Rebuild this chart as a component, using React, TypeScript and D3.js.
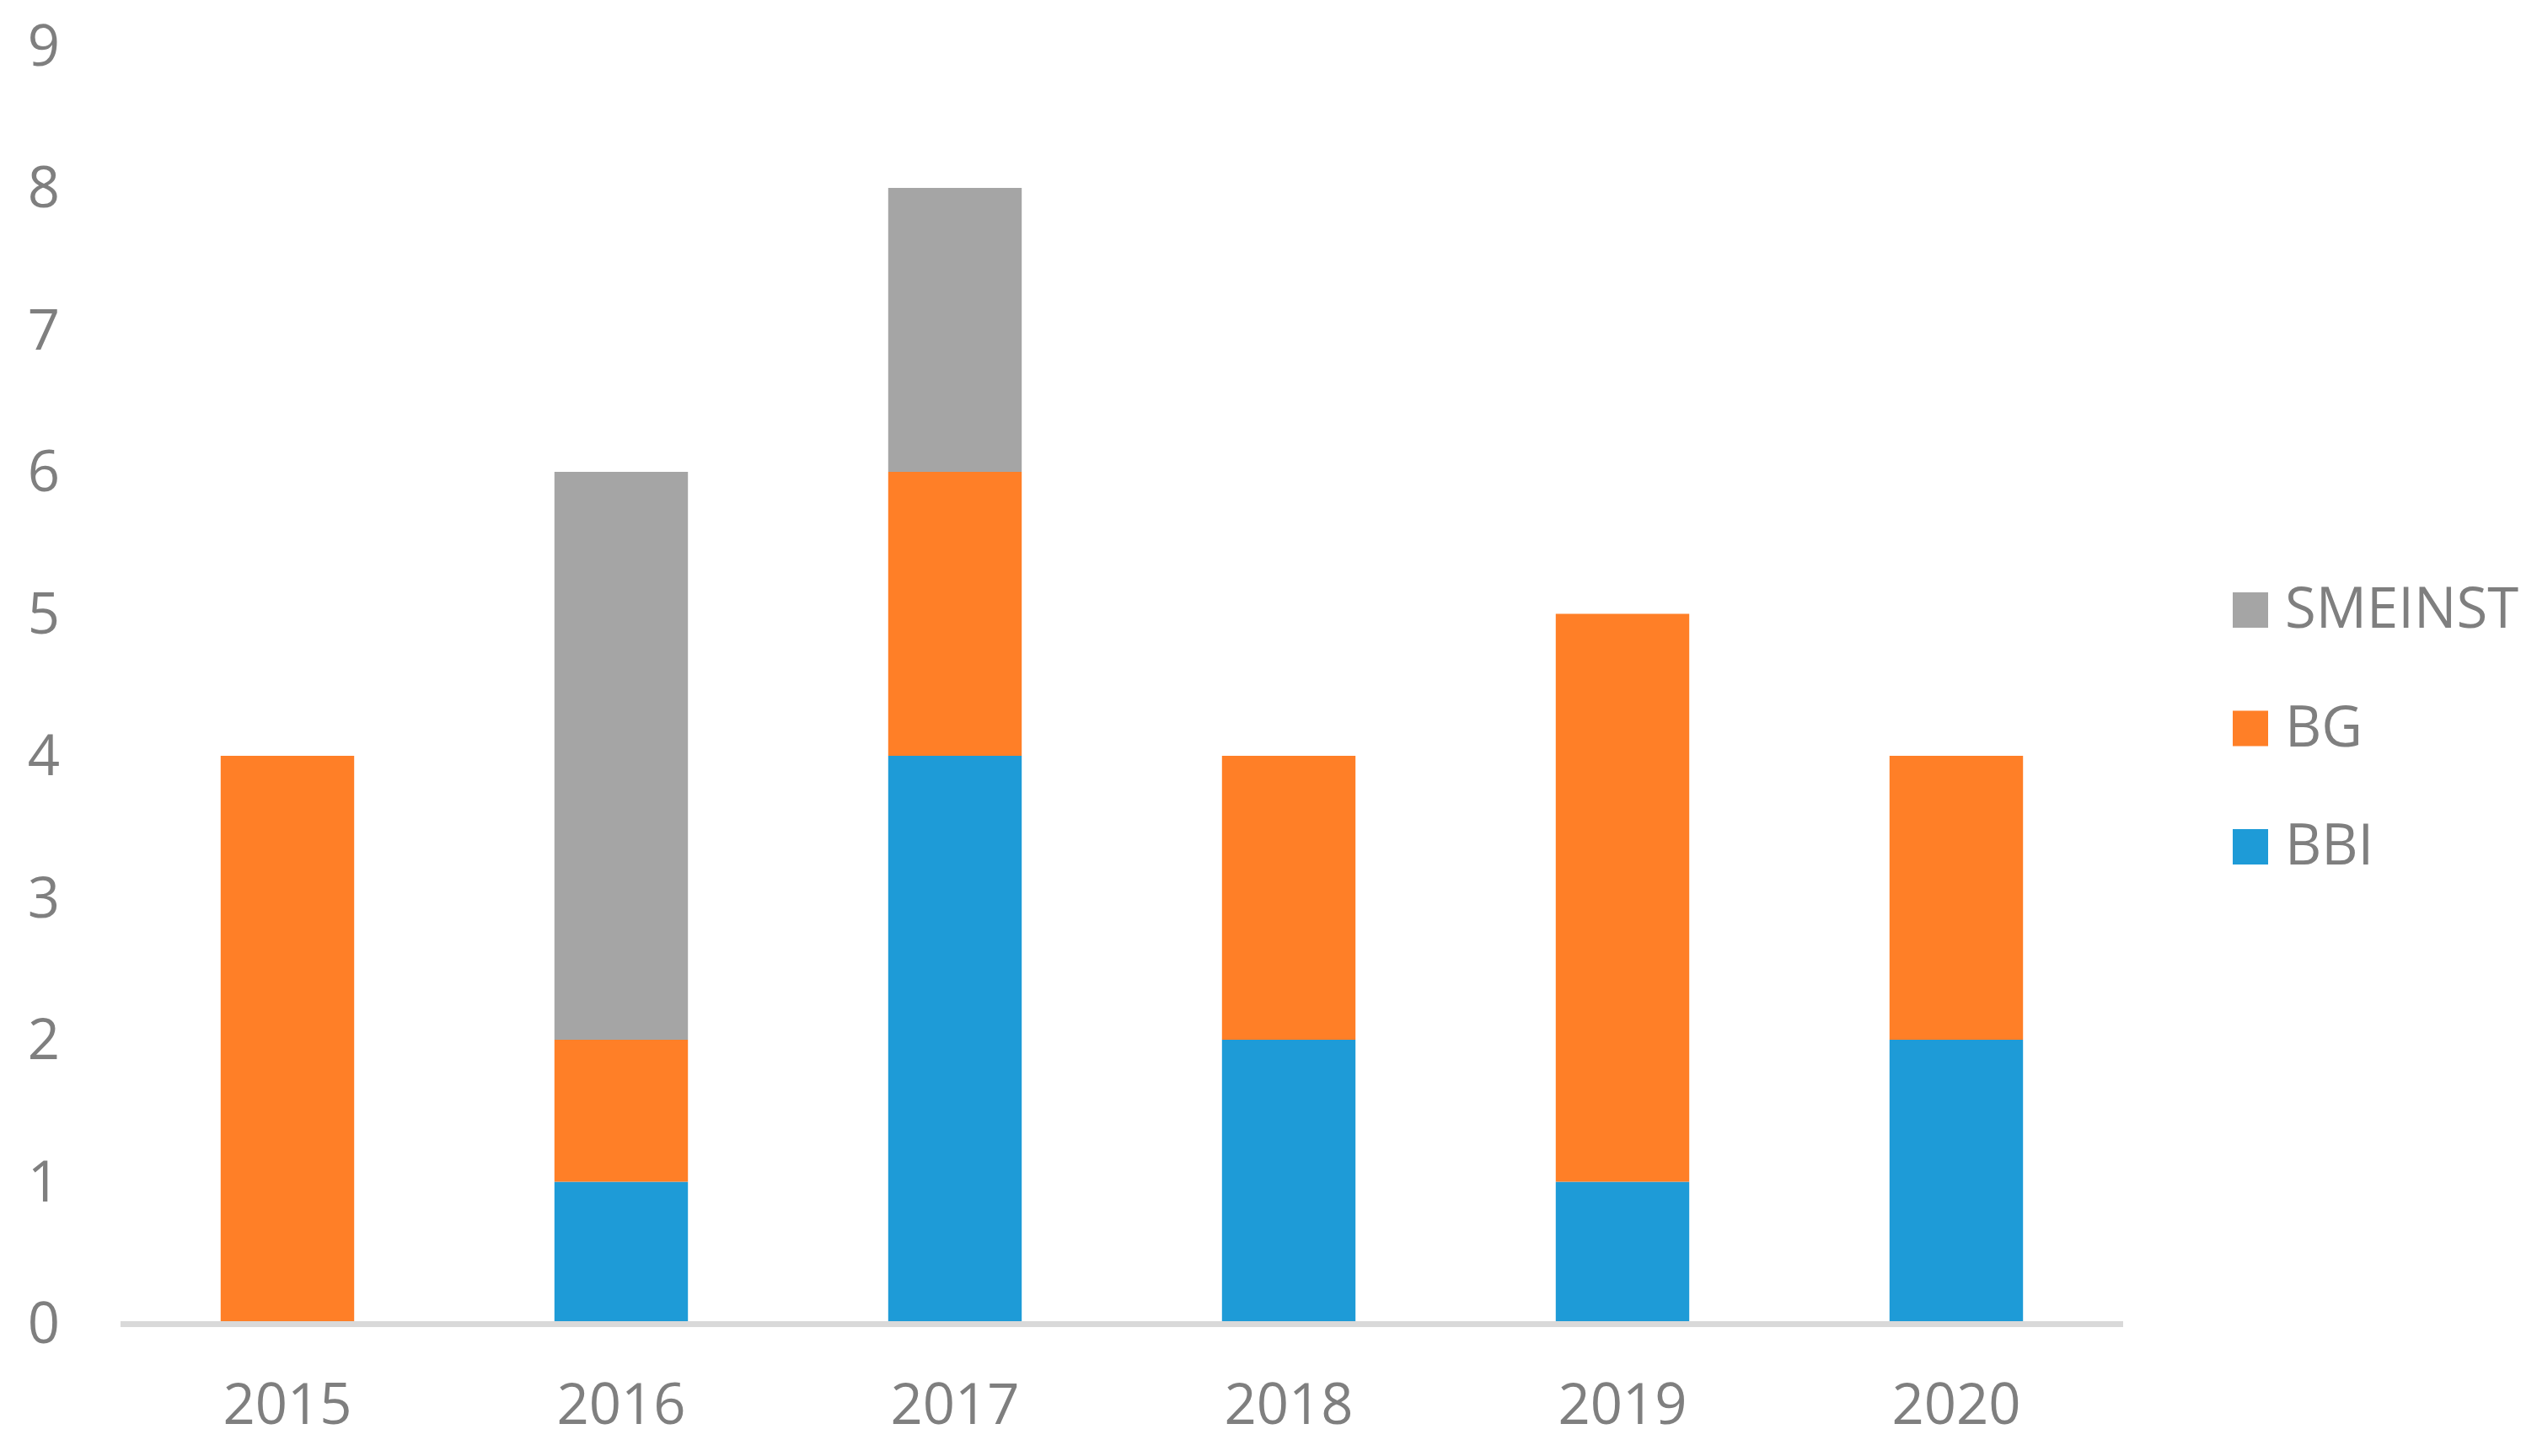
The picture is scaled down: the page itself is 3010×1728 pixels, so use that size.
import React from "react";
import * as d3 from "d3";

const categories = ["2015", "2016", "2017", "2018", "2019", "2020"];
const bbi = [0, 1, 4, 2, 1, 2];
const bg = [4, 1, 2, 2, 4, 2];
const smeinst = [0, 4, 2, 0, 0, 0];
const yTicks = [0, 1, 2, 3, 4, 5, 6, 7, 8, 9];
const seriesNames = ["BBI", "BG", "SMEINST"];
const seriesColors = ["#1E9BD7", "#FF7F27", "#A5A5A5"];

const W = 3010;
const H = 1728;
const FONT = "'Open Sans', sans-serif";
const TEXT = "#7F7F7F";

export default function App() {
  const x = d3
    .scaleBand<string>()
    .domain(categories)
    .range([143, 2519])
    .paddingInner(0.6)
    .paddingOuter(0.3);
  const y = d3.scaleLinear().domain([0, 9]).range([1571, 54.5]);

  const rows = categories.map((c, i) => ({ cat: c, BBI: bbi[i], BG: bg[i], SMEINST: smeinst[i] }));
  const stacked = d3.stack<any>().keys(seriesNames)(rows);

  const legendOrder = [2, 1, 0];
  return (
    <svg
      width={W}
      height={H}
      style={{ position: "absolute", left: 0, top: 0, display: "block", background: "#fff" }}
    >
      {yTicks.map((t) => (
        <text
          key={t}
          x={71}
          y={y(t) + 23}
          textAnchor="end"
          fontFamily={FONT}
          fontSize={67}
          fill={TEXT}
        >
          {t}
        </text>
      ))}
      {stacked.map((s, si) =>
        s.map((d, i) =>
          d[1] - d[0] > 0 ? (
            <rect
              key={`${si}-${i}`}
              x={x(categories[i])}
              width={x.bandwidth()}
              y={y(d[1])}
              height={y(d[0]) - y(d[1])}
              fill={seriesColors[si]}
            />
          ) : null
        )
      )}
      <line x1={143} x2={2519} y1={1571.5} y2={1571.5} stroke="#D9D9D9" strokeWidth={7} />
      {categories.map((c) => (
        <text
          key={c}
          x={(x(c) as number) + x.bandwidth() / 2}
          y={1690}
          textAnchor="middle"
          fontFamily={FONT}
          fontSize={67}
          fill={TEXT}
        >
          {c}
        </text>
      ))}
      {legendOrder.map((si, k) => (
        <g key={si} transform={`translate(2649, ${703 + k * 140.5})`}>
          <rect x={0} y={0} width={42} height={42} fill={seriesColors[si]} />
          <text x={62} y={42} fontFamily={FONT} fontSize={67} fill={TEXT}>
            {seriesNames[si]}
          </text>
        </g>
      ))}
    </svg>
  );
}
